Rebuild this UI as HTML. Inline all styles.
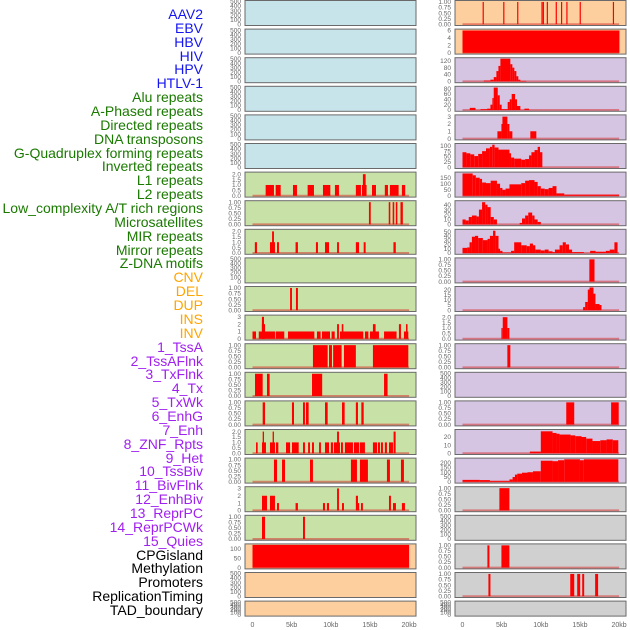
<!DOCTYPE html>
<html><head><meta charset="utf-8">
<style>
html,body{margin:0;padding:0;background:#fff;}
#wrap{position:relative;width:630px;height:630px;overflow:hidden;font-family:"Liberation Sans",sans-serif;}
.lab{position:absolute;right:427px;font-size:14px;line-height:14px;white-space:nowrap;}
svg{position:absolute;left:0;top:0;}
</style></head>
<body>
<div id="wrap">
<div id="labels"></div>
<svg id="chart" width="630" height="630"></svg>
</div>
<script>
// ---- track labels ----
const labelNames = ["AAV2","EBV","HBV","HIV","HPV","HTLV-1","Alu repeats","A-Phased repeats","Directed repeats","DNA transposons","G-Quadruplex forming repeats","Inverted repeats","L1 repeats","L2 repeats","Low_complexity A/T rich regions","Microsatellites","MIR repeats","Mirror repeats","Z-DNA motifs","CNV","DEL","DUP","INS","INV","1_TssA","2_TssAFlnk","3_TxFlnk","4_Tx","5_TxWk","6_EnhG","7_Enh","8_ZNF_Rpts","9_Het","10_TssBiv","11_BivFlnk","12_EnhBiv","13_ReprPC","14_ReprPCWk","15_Quies","CPGisland","Methylation","Promoters","ReplicationTiming","TAD_boundary"];
const labelGroups = [6,13,5,15,5];
const groupColors = ["#1515f0","#1a7a00","#ffa500","#a020f0","#000000"];

// ---- x axis ----
const xTickValues = [0,5,10,15,20];
const xTickLabels = ["0","5kb","10kb","15kb","20kb"];

// ---- left column data [startKb,endKb,value] ----
const leftL1 = [[1.68,2.74,1],[2.96,3.6,1],[5.17,5.68,1],[7.04,7.85,1],[9.0,9.94,1],[10.53,11.04,1],[13.2,13.85,1],[13.98,14.57,1],[14.1,14.45,2],[15.26,15.77,1],[16.9,17.3,1],[17.55,18.66,1],[19.08,19.5,1]];
const leftR7 = [[14.87,15.1,1],[17.4,17.6,1],[17.9,18.1,1],[18.3,18.5,1],[18.9,19.2,1]];
const leftR8 = [[0.3,0.57,1],[2.23,2.87,1],[2.5,2.74,2],[3.13,3.38,1],[5.5,5.8,1],[8.1,8.36,1],[9.26,9.77,1],[10.8,11.04,1],[13.2,13.6,1],[14.2,14.45,1],[18.0,18.3,1]];
const leftR10 = [[4.8,5.04,1],[5.55,5.8,1]];
const leftR11 = [[0,0.45,1],[0.8,2.87,1],[1.2,1.6,2],[1.2,1.47,3],[2.96,4.06,1],[4.53,7.9,1],[8.23,8.7,1],[8.87,9.9,1],[10.1,10.5,1],[10.8,11.04,2],[11.17,14.15,1],[11.4,11.6,2],[14.36,14.8,1],[15.0,16.15,1],[15.38,15.72,2],[16.8,18.4,1],[18.7,18.96,2],[19.34,19.9,1],[19.6,19.8,2]];
const leftR12 = [[7.72,9.6,1],[9.77,10.15,1],[10.3,11.38,1],[11.68,13.2,1],[15.38,19.9,1]];
const leftR13 = [[0.32,1.3,1],[1.85,2.19,1],[7.6,8.9,1],[16.8,17.25,1]];
const leftR14 = [[1.3,1.6,1],[5.04,5.3,1],[6.45,6.7,1],[6.83,7.17,1],[9.26,9.6,1],[11.43,11.77,1],[13.2,13.47,1],[13.9,14.2,1]];
const leftR15 = [[0.45,0.66,1],[1.21,1.72,1],[1.3,1.47,2],[2.23,2.87,1],[2.57,2.74,2],[3.0,3.3,1],[4.28,4.8,1],[5.04,5.9,1],[6.45,6.7,1],[7.1,7.34,1],[7.6,7.85,1],[8.5,8.74,1],[9.26,9.77,1],[10.0,10.28,1],[10.4,11.17,1],[10.8,11.04,2],[11.3,11.55,1],[11.8,12.83,1],[12.96,13.6,1],[13.7,14.36,1],[15.38,15.9,1],[16.02,16.28,1],[16.4,16.66,1],[16.9,17.17,1],[17.43,17.94,1],[18.02,18.28,2]];
const leftR16 = [[2.74,3.13,1],[3.77,4.15,1],[7.34,7.72,1],[12.57,13.34,1],[13.72,14.74,1],[17.17,17.55,1],[18.96,19.34,1]];
const leftR17 = [[1.21,1.85,2],[2.23,2.87,2],[3.13,3.38,1],[5.5,5.8,1],[9.0,9.26,1],[9.5,9.77,1],[10.8,11.04,3],[11.43,11.68,1],[13.2,13.47,2],[13.47,13.6,1],[13.85,14.1,1],[17.43,17.68,2],[17.94,18.32,1],[19.08,19.47,1]];
const leftR18 = [[1.21,1.6,1],[6.45,6.7,1]];
const leftR19 = [[0,20,122]];

// ---- right column data ----
const rightR0 = [[2.57,2.72,1],[5.2,5.35,1],[6.98,7.12,1],[10.08,10.22,1],[10.25,10.38,1],[10.76,10.9,1],[11.9,12.04,1],[12.58,12.72,1],[13.26,13.4,1],[14.96,15.1,1],[19.2,19.35,1]];
const rightR1 = [[0,20.04,6]];
const rightR2 = [[2.72,3.57,5],[3.57,3.99,10],[3.99,4.33,25],[4.33,4.59,60],[4.59,4.84,90],[4.84,6.11,132],[6.11,6.37,100],[6.37,6.62,80],[6.62,6.88,60],[6.88,7.13,30],[7.13,7.39,10],[7.39,8.15,3]];
const rightR3 = [[0.93,1.66,8],[2.3,3.14,3],[3.14,3.57,5],[3.57,3.82,20],[3.82,3.99,45],[3.99,4.5,84],[4.5,4.76,55],[4.76,5.0,20],[5.0,5.77,3],[5.77,6.03,30],[6.03,6.28,40],[6.28,6.71,60],[6.71,6.96,40],[6.96,7.39,15],[7.9,8.5,5]];
const rightR4 = [[4.46,4.97,1],[4.97,5.1,2],[5.1,5.73,3],[5.73,5.99,2],[5.99,6.37,1],[8.66,9.43,1]];
const rightR5 = [[0,0.5,70],[0.5,1,65],[1,1.5,60],[1.5,2,52],[2,2.5,62],[2.5,3,75],[3,3.5,88],[3.5,3.8,95],[3.8,4.1,105],[4.1,4.6,92],[4.6,6,82],[6,6.2,65],[6.2,6.6,45],[6.6,7.5,40],[7.5,8,35],[8,8.5,38],[8.5,8.8,55],[8.8,9.2,70],[9.2,9.6,80],[9.6,9.9,95],[9.9,10.2,70]];
const rightR6 = [[0,1.3,185],[1.3,1.7,170],[1.7,2.2,150],[2.2,2.5,140],[2.5,3,110],[3,3.6,105],[3.6,4.4,125],[4.4,4.8,100],[4.8,5.1,65],[5.1,5.5,50],[5.5,6,60],[6,7.5,95],[7.5,8,105],[8,8.5,125],[8.5,9.2,130],[9.2,9.6,115],[9.6,10,80],[10,10.5,60],[10.5,11,55],[11,11.5,65],[11.5,12,80],[12,13,20],[13,20,10]];
const rightR7 = [[0,0.4,10],[0.4,0.8,8],[0.8,1.2,15],[1.2,1.8,18],[1.8,2.1,16],[2.1,2.5,30],[2.5,2.9,45],[2.9,3.2,40],[3.2,3.6,35],[3.6,4,15],[4,4.4,10],[7.3,7.6,3],[7.6,8,12],[8,8.4,18],[8.4,8.9,24],[8.9,9.2,18],[9.2,9.6,10],[9.6,10,5]];
const rightR8 = [[0,0.6,12],[0.6,0.9,13],[0.9,1.2,25],[1.2,1.6,38],[1.6,2,40],[2,2.6,35],[2.6,3.2,30],[3.2,3.5,33],[3.5,3.9,40],[3.9,4.2,52],[4.2,4.6,40],[4.6,4.8,10],[4.8,5.1,5],[5.1,6.2,1],[6.2,6.6,5],[6.6,7.5,25],[7.5,8.2,18],[8.2,8.6,16],[8.6,9,22],[9,9.3,18],[9.3,10,8],[10,10.5,6],[10.5,11,8],[11,11.5,4],[11.5,11.8,2],[11.8,12.4,8],[12.4,12.8,18],[12.8,13.2,25],[13.2,13.6,20],[13.6,14,8],[14,15.5,2],[16.3,17,5],[17,18.3,3],[18.3,18.8,5],[18.8,19.4,8],[19.4,19.8,25]];
const rightR9 = [[16.2,16.86,1]];
const rightR10 = [[15.4,15.67,3],[15.67,16.0,8],[16.0,16.22,20],[16.22,16.73,22],[16.73,16.98,16],[16.98,17.5,6],[17.5,17.75,5]];
const rightR11 = [[4.97,5.14,1],[5.14,5.73,2],[5.73,5.99,1]];
const rightR12 = [[5.73,6.11,1]];
const rightR14 = [[13.25,14.27,1],[18.98,19.95,1]];
const rightR15 = [[8.6,10,2],[10,11.5,27],[11.5,12,25],[12,12.4,24],[12.4,13.8,23],[13.8,14.4,22],[14.4,15.2,21],[15.2,15.8,20],[15.8,16.6,18],[16.6,17.6,15],[17.6,18.4,16],[18.4,19.2,17],[19.2,19.9,16]];
const rightR16 = [[0,2.2,20],[2.2,3.5,18],[3.5,6,10],[6,6.4,25],[6.4,6.7,50],[6.7,7,75],[7,7.6,85],[7.6,8.3,95],[8.3,9,100],[9,10,110],[10,11.5,220],[11.5,12.2,215],[12.2,13,225],[13,15,235],[15,15.5,225],[15.5,19.9,235]];
const rightR17 = [[4.71,5.99,1]];
const rightR19 = [[3.18,3.44,1],[4.97,5.99,1]];
const rightR20 = [[3.31,3.57,1],[13.76,14.27,1],[14.65,15.03,1],[15.29,15.54,1],[16.94,17.32,1]];

// ---- tick sets ----
const ticksEmpty = [0,100,200,300,400,500];
const ticksUnit = [0,0.25,0.5,0.75,1];
const ticksTwo = [0,0.5,1,1.5,2];
const ticksThree = [0,1,2,3];

const BLUE="#c7e4eb", GREEN="#c8e1a6", ORANGE="#fecf9e", PURPLE="#d5c5e2", GRAY="#d0d0d0";
function P(bg,bars,ymax,ticks,dec){return {bg:bg,bars:bars,ymax:ymax,ticks:ticks,dec:dec};}
function E(bg){return P(bg,null,500,ticksEmpty,0);}
const leftPanels = [E(BLUE),E(BLUE),E(BLUE),E(BLUE),E(BLUE),E(BLUE),
 P(GREEN,leftL1,2.1,ticksTwo,1),P(GREEN,leftR7,1.02,ticksUnit,2),P(GREEN,leftR8,2.1,ticksTwo,1),E(GREEN),
 P(GREEN,leftR10,1.02,ticksUnit,2),P(GREEN,leftR11,3.1,ticksThree,0),P(GREEN,leftR12,1.02,ticksUnit,2),
 P(GREEN,leftR13,1.02,ticksUnit,2),P(GREEN,leftR14,1.02,ticksUnit,2),P(GREEN,leftR15,2.1,ticksTwo,1),
 P(GREEN,leftR16,1.02,ticksUnit,2),P(GREEN,leftR17,3.1,ticksThree,0),P(GREEN,leftR18,1.02,ticksUnit,2),
 P(ORANGE,leftR19,122,[0,50,100],0),E(ORANGE),E(ORANGE)];
const rightPanels = [P(ORANGE,rightR0,1.02,ticksUnit,2),P(ORANGE,rightR1,6.1,[0,2,4,6],0),
 P(PURPLE,rightR2,132,[0,40,80,120],0),P(PURPLE,rightR3,85,[0,20,40,60,80],0),
 P(PURPLE,rightR4,3.1,ticksThree,0),P(PURPLE,rightR5,106,[0,25,50,75,100],0),
 P(PURPLE,rightR6,188,[0,50,100,150],0),P(PURPLE,rightR7,46,[0,10,20,30,40],0),
 P(PURPLE,rightR8,53,[0,10,20,30,40,50],0),P(PURPLE,rightR9,1.02,ticksUnit,2),
 P(PURPLE,rightR10,22,[0,5,10,15,20],0),P(PURPLE,rightR11,2.1,ticksTwo,1),
 P(PURPLE,rightR12,1.02,ticksUnit,2),E(PURPLE),P(PURPLE,rightR14,1.02,ticksUnit,2),
 P(PURPLE,rightR15,28,[0,10,20],0),P(PURPLE,rightR16,237,[0,50,100,150,200],0),
 P(GRAY,rightR17,1.02,ticksUnit,2),E(GRAY),P(GRAY,rightR19,1.02,ticksUnit,2),
 P(GRAY,rightR20,1.02,ticksUnit,2),E(GRAY)];

// ---- render labels ----
const labDiv = document.getElementById('labels');
let gi=0, gc=0;
labelNames.forEach((t,i)=>{
  while(gc>=labelGroups[gi]){gi++;gc=0;}
  gc++;
  const d=document.createElement('div');
  d.className='lab';
  d.textContent=t;
  d.style.top=(15+i*13.86-8)+'px';
  d.style.color=groupColors[gi];
  
  
  labDiv.appendChild(d);
});

// ---- render panels ----
const svg=document.getElementById('chart');
const NS='http://www.w3.org/2000/svg';
function mk(tag,attrs,parent){const e=document.createElementNS(NS,tag);for(const k in attrs)e.setAttribute(k,attrs[k]);parent.appendChild(e);return e;}
function rowTop(i){return 0.5+i*28.6;}
function rowH(i){return i<21?25:15;}
const cols=[{panels:leftPanels,left:245,x0:252.5,name:'left'},{panels:rightPanels,left:455,x0:462.5,name:'right'}];
const PW=171, KB=7.83;
cols.forEach(col=>{
  const xs=kb=>col.x0+kb*KB;
  col.panels.forEach((p,i)=>{
    const top=rowTop(i), h=rowH(i);
    const g=mk('g',{},svg);
    
    
    const bg=mk('rect',{x:col.left,y:top,width:PW,height:h,fill:p.bg},g);
    
    
    const yb=top+h-1.3, yt=top+1;
    const ys=v=>yb-(v/p.ymax)*(yb-yt);
    if(p.bars){
      const base=mk('line',{x1:xs(0),x2:xs(20),y1:yb,y2:yb,stroke:'rgba(215,40,40,0.5)','stroke-width':2},g);
      
      
      p.bars.forEach(b=>{
        const y=Math.max(top,ys(b[2]));
        const r=mk('rect',{x:xs(b[0]),y:y,width:Math.max(1.2,xs(b[1])-xs(b[0])),height:yb-y,fill:'#ff0000'},g);
        
        
      });
    }
    const br=mk('rect',{x:col.left,y:top,width:PW,height:h,fill:'none',stroke:'#6a6a6a','stroke-width':1},g);
    
    
    p.ticks.forEach(t=>{
      const tx=mk('text',{x:col.left-4,y:ys(t)+2.2,'text-anchor':'end','font-size':'6.5px',fill:'#666','font-family':'Liberation Sans, sans-serif'},g);
      tx.textContent=t.toFixed(p.dec);
      
      
    });
  });
  xTickValues.forEach((v,k)=>{
    const tx=mk('text',{x:xs(v),y:627,'text-anchor':'middle','font-size':'7px',fill:'#666','font-family':'Liberation Sans, sans-serif'},svg);
    tx.textContent=xTickLabels[k];
    
    
  });
});
</script>
</body></html>
